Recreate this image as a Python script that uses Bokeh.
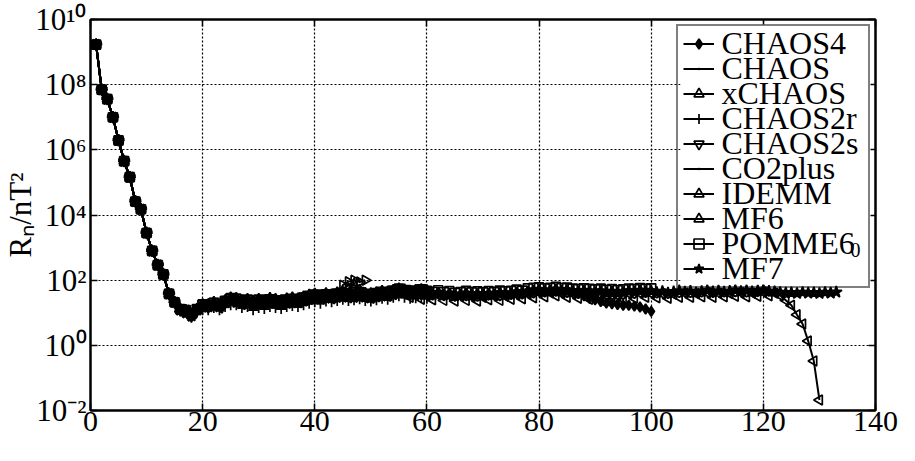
import math
from bokeh.plotting import figure
from bokeh.models import (Legend, LegendItem, FixedTicker, CustomJSTickFormatter,
                          LinearAxis, LogAxis, Label, Range1d, BoxAnnotation)
from bokeh.core.properties import value
from bokeh.embed import file_html
from bokeh.resources import INLINE

# ---------------- data (R_n in nT^2, degree n = 1, 2, ...) ----------------
core_field = [1.7e9, 7.0e7, 3.6e7, 1.0e7, 1.95e6, 4.5e5, 1.45e5, 2.6e4, 1.5e4,
              2.8e3, 7.9e2, 2.9e2, 1.5e2, 38, 21]

chaos4_tail = [12, 11, 7.5, 11, 17, 14, 19, 16, 19, 24,
               24, 20, 22, 18, 22, 20, 23, 21, 19, 22,
               23, 22, 25, 28, 31, 28, 31, 30, 34, 35,
               31, 33, 36, 32, 31, 34, 37, 35, 40, 46,
               42, 38, 40, 43, 39, 37, 41, 36, 38, 34,
               36, 39, 35, 37, 35, 38, 36, 40, 37, 39,
               42, 40, 45, 47, 49, 46, 48, 51, 47, 49,
               44, 40, 33, 28, 25, 22, 20, 19, 18, 17,
               17, 16, 15, 13, 11]

chaos_tail = [11, 9, 7, 10, 13, 13, 15, 13, 16, 19,
              18, 15, 17, 14, 16, 15, 17, 16, 15, 17,
              18, 17, 19, 21, 23, 21, 24, 22, 25, 26,
              24, 25, 27, 24, 23]

xchaos_tail = [13, 12, 9, 13, 18, 18, 21, 18, 24, 29,
               28, 24, 26, 22, 26, 24, 28, 26, 24, 27,
               29, 27, 31, 35, 38, 34, 39, 36, 41, 43,
               55, 75, 50, 40, 39, 42, 46, 44, 49, 55,
               51, 47, 49, 52, 48]

chaos2r_tail = [11, 10, 7, 10, 12, 12, 14, 12, 15, 17,
                17, 14, 15, 12, 14, 13, 15, 14, 13, 15,
                16, 15, 17, 19, 21, 19, 22, 21, 23, 25,
                23, 24, 26, 23, 22, 24, 27, 25, 29, 32,
                29, 27, 28, 30, 27]

chaos2s_tail = [14, 12, 9, 14, 19, 19, 22, 19, 25, 30,
                29, 25, 28, 24, 28, 26, 29, 27, 25, 28,
                30, 28, 32, 36, 39, 35, 40, 37, 42, 44,
                40, 42, 46, 41, 40, 43, 47, 45, 50, 56,
                52, 48, 50, 54, 49]

co2plus_tail = [12, 11, 8, 12, 16, 15, 18, 15, 20, 24, 22, 19, 21, 18]

idemm_tail = [13, 10, 8, 12, 15, 17, 16, 16, 22, 22,
              21, 20, 19, 19, 19, 21, 20, 22, 20, 19,
              20, 23, 22, 26, 27, 28, 28, 31, 34, 70,
              90, 100, 88, 100]

mf6_tail = [11, 12, 9, 13, 15, 16, 17, 14, 21, 23,
            22, 18, 20, 18, 21, 18, 21, 19, 19, 20,
            21, 21, 23, 26, 28, 27, 29, 27, 30, 31,
            29, 30, 32, 29, 28, 31, 33, 32, 36, 41,
            38, 30, 36, 26, 34, 25, 35, 24, 33, 23,
            32, 24, 31, 23, 30, 25, 33, 24, 32, 26,
            36, 27, 38, 29, 42, 31, 41, 33, 39, 30,
            38, 28, 37, 26, 33, 24, 34, 25, 33, 26,
            39, 28, 40, 30, 39, 29, 38, 28, 37, 30,
            40, 30, 39, 31, 41, 30, 40, 31, 39, 32,
            41, 31, 40, 32, 43, 33, 40, 34, 24, 17,
            8.7, 4.5, 1.35, 0.33, 0.021]

pomme6_tail = [13, 12, 9, 13, 18, 17, 20, 17, 23, 28,
               27, 22, 25, 20, 25, 22, 26, 24, 21, 25,
               26, 25, 29, 33, 36, 33, 37, 35, 39, 41,
               38, 39, 43, 38, 37, 40, 44, 42, 48, 55,
               50, 46, 48, 52, 47, 44, 49, 43, 46, 41,
               43, 47, 42, 45, 42, 46, 43, 48, 45, 47,
               51, 48, 56, 58, 60, 56, 58, 62, 57, 59,
               55, 53, 56, 54, 52, 55, 50, 53, 49, 52,
               55, 53, 57, 54, 56]

mf7_tail = [12, 11, 8, 12, 16, 15, 18, 15, 20, 25,
            23, 19, 21, 17, 20, 19, 22, 20, 18, 21,
            22, 20, 24, 27, 29, 26, 30, 28, 32, 33,
            30, 31, 34, 30, 29, 32, 35, 33, 38, 44,
            41, 37, 39, 42, 38, 36, 40, 35, 37, 33,
            35, 38, 34, 36, 34, 37, 35, 39, 36, 38,
            41, 39, 44, 46, 48, 45, 47, 50, 46, 48,
            45, 43, 46, 44, 42, 45, 41, 43, 40, 42,
            45, 43, 47, 44, 46, 42, 45, 40, 44, 47,
            43, 46, 41, 45, 48, 44, 47, 43, 46, 49,
            45, 48, 44, 47, 50, 46, 44, 42, 40, 41,
            39, 42, 40, 41, 39, 42, 40, 43]

model_names = ["CHAOS4", "CHAOS", "xCHAOS", "CHAOS2r", "CHAOS2s",
               "CO2plus", "IDEMM", "MF6", "POMME6", "MF7"]
model_tails = [chaos4_tail, chaos_tail, xchaos_tail, chaos2r_tail, chaos2s_tail,
               co2plus_tail, idemm_tail, mf6_tail, pomme6_tail, mf7_tail]

x_ticks = [0, 20, 40, 60, 80, 100, 120, 140]
y_exponents = [-2, 0, 2, 4, 6, 8, 10]
y_title = "Rₙ/nT²"

# ---------------- styles ----------------
FONT = "Liberation Serif"
W, H = 899, 445                      # canvas size
FL, FR, FT, FB = 90, 875, 19, 410    # frame edges (canvas pixels)
LEG_MARGIN, LEG_PAD, ROW_H, GLYPH_W, LABEL_W, STANDOFF = 5, 5, 25, 31, 145, 4

# marker, size, fill, angle
marker_styles = [
    ("diamond", 10, "black", 0.0),
    ("dot", 10, "black", 0.0),
    ("triangle", 10, None, 0.0),
    ("cross", 10, None, 0.0),
    ("inverted_triangle", 10, None, 0.0),
    ("dot", 12, "black", 0.0),
    ("triangle", 10, None, -math.pi / 2),
    ("triangle", 10, None, math.pi / 2),
    ("square", 9, None, 0.0),
    ("star", 12, "black", 0.0),
]

p = figure(width=W, height=H, x_range=Range1d(0, 140), y_range=Range1d(1e-2, 1e10),
           y_axis_type="log", output_backend="svg", toolbar_location=None,
           min_border_left=FL, min_border_right=W - FR, min_border_top=FT,
           min_border_bottom=H - FB)
p.background_fill_color = "white"
p.border_fill_color = "white"
p.outline_line_color = "black"
p.outline_line_width = 2

blank = CustomJSTickFormatter(code="return ''")
sup_fmt = CustomJSTickFormatter(code="""
const sup = {"-": "\u207b", "0": "\u2070", "1": "\u00b9", "2": "\u00b2", "3": "\u00b3",
             "4": "\u2074", "5": "\u2075", "6": "\u2076", "7": "\u2077", "8": "\u2078", "9": "\u2079"};
const e = Math.round(Math.log10(tick));
return "10" + String(e).split("").map(c => sup[c]).join("");
""")

for ax in (p.xaxis[0], p.yaxis[0]):
    ax.major_tick_in = 7
    ax.major_tick_out = 0
    ax.minor_tick_line_color = None
    ax.axis_line_color = "black"
    ax.axis_line_width = 2
    ax.major_tick_line_color = "black"
    ax.major_tick_line_width = 1.5
    ax.major_label_text_font = FONT
    ax.major_label_text_color = "black"

xa = p.xaxis[0]
xa.ticker = FixedTicker(ticks=x_ticks)
xa.major_label_text_font_size = "30px"
xa.major_label_standoff = 1

ya = p.yaxis[0]
ya.ticker = FixedTicker(ticks=[10.0 ** e for e in y_exponents])
ya.formatter = sup_fmt
ya.major_label_text_font_size = "31px"
ya.major_label_standoff = 4
ya.axis_label = y_title
ya.axis_label_text_font = FONT
ya.axis_label_text_font_size = "31px"
ya.axis_label_text_font_style = "normal"
ya.axis_label_text_color = "black"
ya.axis_label_standoff = -6

top_ax = LinearAxis(ticker=FixedTicker(ticks=x_ticks), formatter=blank,
                    major_label_standoff=0, major_tick_in=7, major_tick_out=0,
                    minor_tick_line_color=None, axis_line_width=2, major_tick_line_width=1.5)
right_ax = LogAxis(ticker=FixedTicker(ticks=[10.0 ** e for e in y_exponents]), formatter=blank,
                   major_label_standoff=0, major_tick_in=7, major_tick_out=0,
                   minor_tick_line_color=None, axis_line_width=2, major_tick_line_width=1.5)
p.add_layout(top_ax, "above")
p.add_layout(right_ax, "right")

p.xgrid.ticker = FixedTicker(ticks=x_ticks)
p.ygrid.ticker = FixedTicker(ticks=[10.0 ** e for e in y_exponents])
for g in (p.xgrid[0], p.ygrid[0]):
    g.grid_line_color = "black"
    g.grid_line_dash = "2 2"
    g.grid_line_width = 1.2
    g.minor_grid_line_color = None

items = []
for name, tail, (mk, sz, fill, ang) in zip(model_names, model_tails, marker_styles):
    vals = core_field + tail
    n = list(range(1, len(vals) + 1))
    lr = p.line(n, vals, line_color="black", line_width=2)
    sr = p.scatter(n, vals, marker=mk, size=sz, angle=ang, line_color="black",
                   line_width=1.7, fill_color=fill)
    items.append(LegendItem(label=value(""), renderers=[lr, sr]))

# legend box geometry, in frame-relative screen units (x from left, y from bottom)
leg_w = 2 * LEG_PAD + GLYPH_W + STANDOFF + LABEL_W
leg_h = 2 * LEG_PAD + ROW_H * len(model_names)
leg_right = (FR - FL) - LEG_MARGIN
leg_top = (FB - FT) - LEG_MARGIN
p.add_layout(BoxAnnotation(left=leg_right - leg_w, right=leg_right, top=leg_top,
                           bottom=leg_top - leg_h, left_units="screen", right_units="screen",
                           top_units="screen", bottom_units="screen",
                           fill_color="white", fill_alpha=1.0, line_color=None))

legend = Legend(items=items, location="top_right", margin=LEG_MARGIN, padding=LEG_PAD,
                spacing=0, glyph_width=GLYPH_W, glyph_height=ROW_H, label_height=ROW_H,
                label_width=LABEL_W, label_standoff=STANDOFF, border_line_color="black",
                border_line_width=2, background_fill_alpha=0.0)
p.add_layout(legend)

leg_text_x = leg_right - leg_w + LEG_PAD + GLYPH_W + STANDOFF + 1
for i, name in enumerate(model_names):
    base_y = leg_top - (LEG_PAD + ROW_H * i + ROW_H / 2 + 1)
    p.add_layout(Label(x=leg_text_x, y=base_y, x_units="screen", y_units="screen",
                       text=name, text_font=FONT, text_font_size="32px", text_align="left",
                       text_baseline="alphabetic", text_color="black"))
    if name == "POMME6":
        p.add_layout(Label(x=leg_text_x + 129, y=base_y - 7, x_units="screen", y_units="screen",
                           text="0", text_font=FONT, text_font_size="20px", text_align="left",
                           text_baseline="alphabetic", text_color="black"))

open("out.html", "w").write(file_html(p, INLINE))
